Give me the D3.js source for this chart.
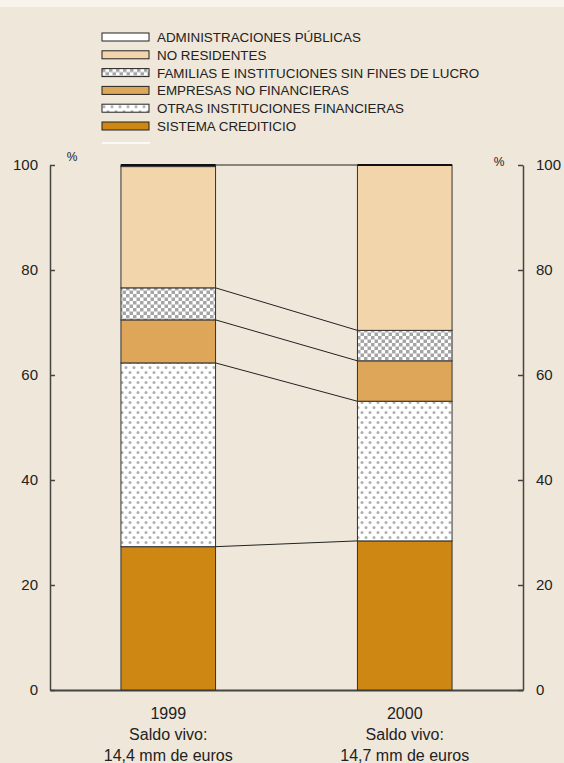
<!DOCTYPE html>
<html>
<head>
<meta charset="utf-8">
<script src="https://cdn.jsdelivr.net/npm/d3@7"></script>
<style>
  body { margin: 0; background: #efe7d9; }
  svg { display: block; font-family: "Liberation Sans", Arial, sans-serif; }
</style>
</head>
<body>
<svg id="chart" width="564" height="763"></svg>
<script>
// Data
const years = ["1999", "2000"];
const saldo = ["14,4 mm de euros", "14,7 mm de euros"];
const series = ["SISTEMA CREDITICIO", "OTRAS INSTITUCIONES FINANCIERAS", "EMPRESAS NO FINANCIERAS",
  "FAMILIAS E INSTITUCIONES SIN FINES DE LUCRO", "NO RESIDENTES", "ADMINISTRACIONES PÚBLICAS"];
const values1999 = [27.3, 35.0, 8.2, 6.1, 23.1, 0.3];
const values2000 = [28.4, 26.6, 7.7, 5.8, 31.5, 0.0];
const yTicks = [0, 20, 40, 60, 80, 100];

const svg = d3.select("#chart"),
  width = +svg.attr("width"),
  height = +svg.attr("height");

// table for the stack
const rows = years.map(function(yr, i) {
  const r = { year: yr };
  const vals = i === 0 ? values1999 : values2000;
  series.forEach(function(s, j) { r[s] = vals[j]; });
  return r;
});
const stacked = d3.stack().keys(series)(rows);

// patterns
const defs = svg.append("defs");
const checker = defs.append("pattern").attr("id", "checker")
  .attr("patternUnits", "userSpaceOnUse").attr("width", 7).attr("height", 7);
checker.append("rect").attr("width", 7).attr("height", 7).attr("fill", "#ffffff");
checker.append("rect").attr("width", 3.5).attr("height", 3.5).attr("fill", "#a5a5a5");
checker.append("rect").attr("x", 3.5).attr("y", 3.5).attr("width", 3.5).attr("height", 3.5).attr("fill", "#a5a5a5");

const dots = defs.append("pattern").attr("id", "dots")
  .attr("patternUnits", "userSpaceOnUse").attr("width", 8).attr("height", 10);
dots.append("rect").attr("width", 8).attr("height", 10).attr("fill", "#ffffff");
dots.append("circle").attr("cx", 2).attr("cy", 2.5).attr("r", 1.5).attr("fill", "#b0b0b0");
dots.append("circle").attr("cx", 6).attr("cy", 7.5).attr("r", 1.5).attr("fill", "#b0b0b0");

const fills = {
  "SISTEMA CREDITICIO": "#cf8714",
  "OTRAS INSTITUCIONES FINANCIERAS": "url(#dots)",
  "EMPRESAS NO FINANCIERAS": "#dea658",
  "FAMILIAS E INSTITUCIONES SIN FINES DE LUCRO": "url(#checker)",
  "NO RESIDENTES": "#f2d5ab",
  "ADMINISTRACIONES PÚBLICAS": "#ffffff"
};

// top strip
svg.append("rect").attr("width", width).attr("height", 7).attr("fill", "#f8f4ec");

// scales
const x = d3.scaleBand().domain(years).range([50, 523]).paddingInner(0.6).paddingOuter(0.3);
const y = d3.scaleLinear().domain([0, 100]).range([690, 165]);

// axes
const axisColor = "#444";
const left = svg.append("g").attr("transform", "translate(50,0)")
  .call(d3.axisLeft(y).tickValues(yTicks).tickSizeInner(-5).tickSizeOuter(0).tickPadding(12));
const right = svg.append("g").attr("transform", "translate(523,0)")
  .call(d3.axisRight(y).tickValues(yTicks).tickSizeInner(-5).tickSizeOuter(0).tickPadding(13));
const bottom = svg.append("g").attr("transform", "translate(0,690)")
  .call(d3.axisBottom(x).tickSize(0).tickFormat(""));
[left, right, bottom].forEach(function(g) {
  g.selectAll("path, line").attr("stroke", axisColor).attr("stroke-width", 1.5);
  g.selectAll("text").attr("font-size", 15).attr("fill", "#222")
    .attr("font-family", "'Liberation Sans', Arial, sans-serif");
});
bottom.select(".domain").attr("stroke-width", 2);

svg.append("text").attr("x", 72).attr("y", 161).attr("font-size", 12).attr("fill", "#222")
  .attr("text-anchor", "middle").text("%");
svg.append("text").attr("x", 499).attr("y", 166).attr("font-size", 12).attr("fill", "#222")
  .attr("text-anchor", "middle").text("%");

// connector lines between the bars
const bounds = [0, 1, 2, 3, 5];
bounds.forEach(function(k) {
  const a = stacked[k][0][1], b = stacked[k][1][1];
  svg.append("line")
    .attr("x1", x("1999") + x.bandwidth()).attr("y1", y(a))
    .attr("x2", x("2000")).attr("y2", y(b))
    .attr("stroke", "#222").attr("stroke-width", 1);
});

// bars
svg.append("g")
  .selectAll("g")
  .data(stacked)
  .enter()
  .append("g")
    .attr("fill", function(d) { return fills[d.key]; })
  .selectAll("rect")
  .data(function(d) { return d; })
  .enter()
  .append("rect")
    .attr("x", function(d) { return x(d.data.year); })
    .attr("y", function(d) { return y(d[1]); })
    .attr("width", x.bandwidth())
    .attr("height", function(d) { return y(d[0]) - y(d[1]); })
    .attr("stroke", "#333")
    .attr("stroke-width", 1);

// top edge of each bar
years.forEach(function(yr) {
  svg.append("line").attr("x1", x(yr)).attr("x2", x(yr) + x.bandwidth())
    .attr("y1", y(100)).attr("y2", y(100)).attr("stroke", "#111").attr("stroke-width", 2);
});

// category labels
years.forEach(function(yr, i) {
  const cx = x(yr) + x.bandwidth() / 2;
  const t = svg.append("text").attr("text-anchor", "middle").attr("font-size", 16).attr("fill", "#222");
  t.append("tspan").attr("x", cx).attr("y", 719).text(yr);
  t.append("tspan").attr("x", cx).attr("y", 740).text("Saldo vivo:");
  t.append("tspan").attr("x", cx).attr("y", 761).text(saldo[i]);
});

// legend
const legendOrder = series.slice().reverse();
const legend = svg.append("g").attr("transform", "translate(102,33)");
const item = legend.selectAll("g")
  .data(legendOrder)
  .enter()
  .append("g")
    .attr("transform", function(d, i) { return "translate(0," + (i * 17.8) + ")"; });
item.append("rect")
  .attr("width", 47).attr("height", 8)
  .attr("fill", function(d) { return fills[d]; })
  .attr("stroke", "#222").attr("stroke-width", 1);
item.append("text")
  .attr("x", 55).attr("y", 9)
  .attr("font-size", 13.4).attr("fill", "#222")
  .text(function(d) { return d; });
legend.append("line").attr("x1", 0).attr("x2", 48).attr("y1", 110).attr("y2", 110)
  .attr("stroke", "#ffffff").attr("stroke-width", 1.5);
</script>
</body>
</html>
